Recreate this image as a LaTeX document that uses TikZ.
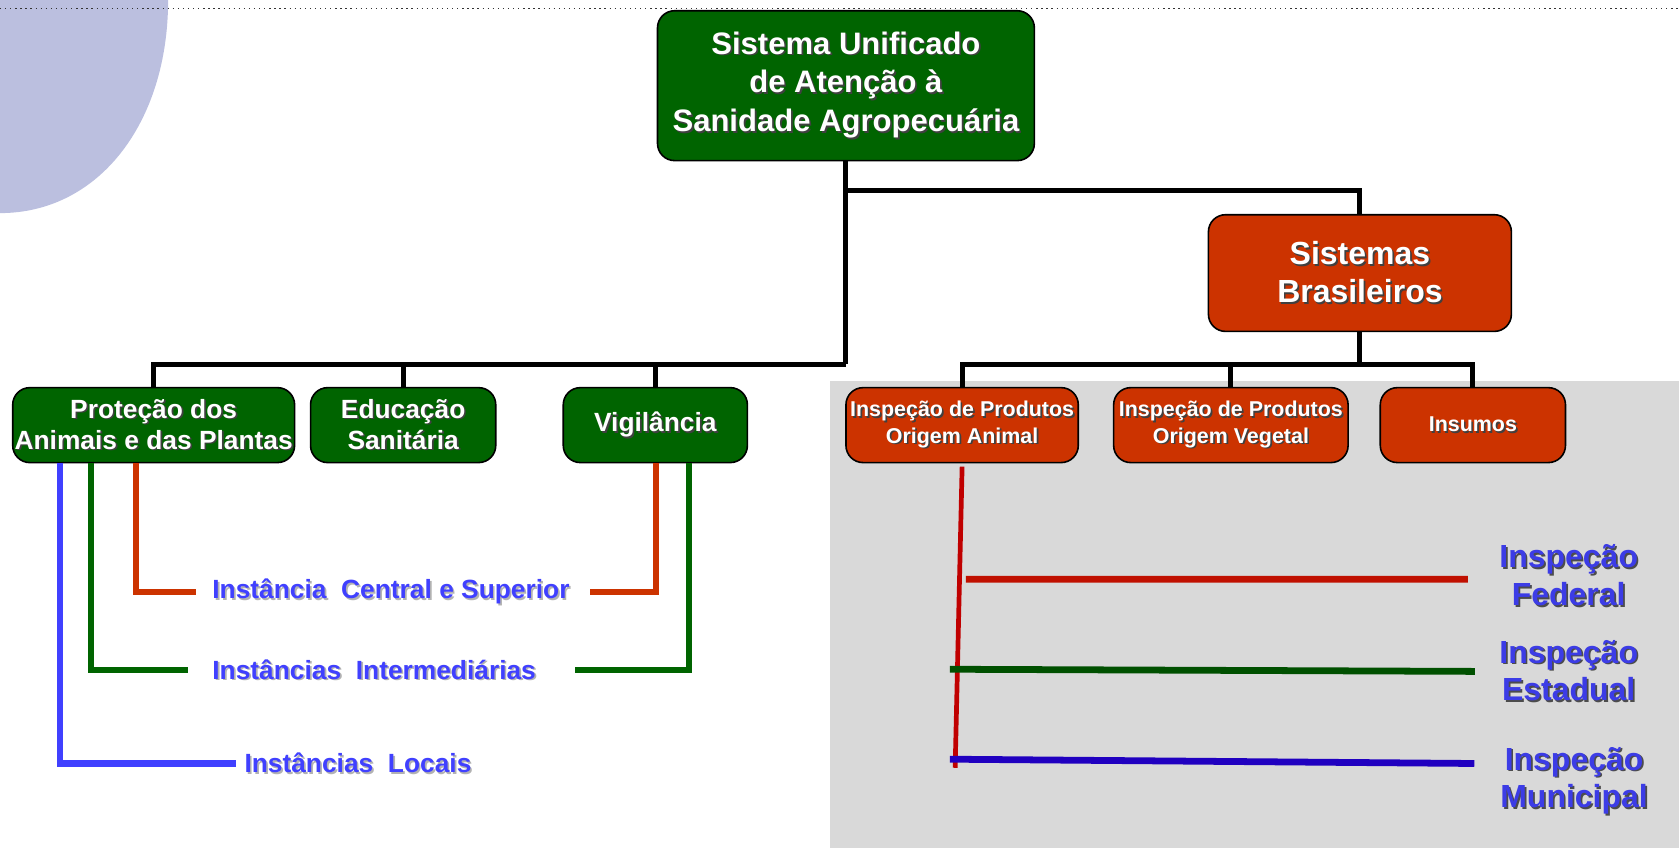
\documentclass[tikz,border=0pt]{standalone}
\usepackage{fontspec}
\setmainfont{Liberation Sans}
\usepackage{tikz}
\usetikzlibrary{shapes}
\usepackage{xcolor}

\definecolor{verde}{RGB}{0,100,0}
\definecolor{tijolo}{RGB}{204,51,0}
\definecolor{lilas}{RGB}{187,191,223}
\definecolor{cinza}{RGB}{217,217,217}
\definecolor{azulinst}{RGB}{64,64,255}
\definecolor{azulinsp}{RGB}{60,60,230}
\definecolor{vermfed}{RGB}{192,16,0}
\definecolor{vermvert}{RGB}{192,0,0}
\definecolor{verdeest}{RGB}{0,80,0}
\definecolor{azulmun}{RGB}{32,0,192}

% texto com sombra
\newcommand\sombra[2][black!75]{\leavevmode\rlap{\hspace{0.9pt}\raisebox{-0.9pt}{\textcolor{#1}{#2}}}#2}

\begin{document}
\begin{tikzpicture}[x=0.02cm,y=-0.02cm]
  \tikzstyle{caixa}=[rectangle, rounded corners=0.32cm, draw=black, line width=0.85pt, text=white, align=center, inner sep=1pt]
  \tikzstyle{gbox}=[caixa, fill=verde, minimum height=1.4cm, font=\fontsize{14}{16.5}\selectfont\bfseries]
  \tikzstyle{rbox}=[caixa, fill=tijolo, minimum height=1.4cm, font=\fontsize{11.4}{14.2}\selectfont\bfseries]
  \tikzstyle{arvore}=[draw=black, line width=2.6pt]
  \tikzstyle{inst}=[text=azulinst, font=\fontsize{14}{16}\selectfont\bfseries, inner sep=0pt, anchor=west]
  \tikzstyle{insp}=[text=azulinsp, font=\fontsize{17}{20}\selectfont\bfseries, inner sep=0pt, align=center]
  \tikzstyle{nivel}=[line width=3.2pt]
  \tikzstyle{traco}=[line width=3.6pt]

  \useasboundingbox (0,0) rectangle (1568,792);
  % fundo
  \fill[cinza] (775,356) rectangle (1568,792);
  \fill[lilas] (0,0) -- (157,0) .. controls (157,115) and (92,199) .. (0,199) -- cycle;
  \draw[black!80, dotted, line width=0.7pt] (0,8) -- (1568,8);

  % caixas
  \node[gbox, minimum width=7.04cm, minimum height=2.8cm, font=\fontsize{16.5}{20.5}\selectfont\bfseries] (suasa) at (790,80) {\sombra{Sistema Unificado}\\\sombra{de Atenção à}\\\sombra{Sanidade Agropecuária}};
  \node[rbox, minimum width=5.66cm, minimum height=2.18cm, font=\fontsize{17}{20.5}\selectfont\bfseries] (sisbr) at (1270,255) {\sombra{Sistemas}\\\sombra{Brasileiros}};
  \node[gbox, minimum width=5.26cm] (protecao) at (143.5,397) {\sombra{Proteção dos}\\\sombra{Animais e das Plantas}};
  \node[gbox, minimum width=3.46cm] (educacao) at (376.5,397) {\sombra{Educação}\\\sombra{Sanitária}};
  \node[gbox, minimum width=3.44cm] (vigilancia) at (612,397) {\sombra{Vigilância}};
  \node[rbox, minimum width=4.34cm] (animal) at (898.5,397) {\sombra{Inspeção de Produtos}\\\sombra{Origem Animal}};
  \node[rbox, minimum width=4.38cm] (vegetal) at (1149.5,397) {\sombra{Inspeção de Produtos}\\\sombra{Origem Vegetal}};
  \node[rbox, minimum width=3.46cm] (insumos) at (1375.5,397) {\sombra{Insumos}};

  % ligacoes
  \coordinate (jA) at (790,178);
  \coordinate (jB) at (790,340);
  \coordinate (jC) at (1270,340);
  \draw[arvore] (suasa.south) -- (jB);
  \draw[arvore] (jA) -| (sisbr.north);
  \foreach \n in {protecao,educacao,vigilancia}
    \draw[arvore] (jB) -| (\n.north);
  \draw[arvore] (sisbr.south) -- (jC);
  \foreach \n in {animal,vegetal,insumos}
    \draw[arvore] (jC) -| (\n.north);

  % instancias
  \node[inst] (central) at (198,553) {\sombra[black!30]{Instância\ \ Central e Superior}};
  \node[inst] (intermed) at (198,626) {\sombra[black!30]{Instâncias\ \ Intermediárias}};
  \node[inst] (locais) at (228,713) {\sombra[black!30]{Instâncias\ \ Locais}};
  \draw[nivel, tijolo] ([xshift=-0.33cm]protecao.south) |- ([xshift=-0.3cm]central.west);
  \draw[nivel, tijolo] ([xshift=0.02cm]vigilancia.south) |- ([xshift=0.38cm]central.east);
  \draw[nivel, verde] ([xshift=-1.17cm]protecao.south) |- ([xshift=-0.44cm]intermed.west);
  \draw[nivel, verde] ([xshift=0.62cm]vigilancia.south) |- ([xshift=0.72cm]intermed.east);
  \draw[nivel, azulinst] ([xshift=-1.75cm]protecao.south) |- ([xshift=-0.16cm]locais.west);

  % inspecao
  \node[insp] (federal) at (1465,538) {\sombra[black!70]{Inspeção}\\\sombra[black!70]{Federal}};
  \node[insp] (estadual) at (1465,627) {\sombra[black!70]{Inspeção}\\\sombra[black!70]{Estadual}};
  \node[insp] (municipal) at (1470,730) {\sombra[black!70]{Inspeção}\\\sombra[black!70]{Municipal}};
  \coordinate (iaFim) at (892,717);
  \coordinate (fedA) at (902,541);
  \coordinate (estA) at (887,625);
  \coordinate (munA) at (887,709);
  \draw[vermvert, line width=2.5pt] ([yshift=-0.06cm]animal.south) -- (iaFim);
  \draw[traco, vermfed] (fedA) -- ([xshift=-0.58cm,yshift=-0.06cm]federal.west);
  \draw[traco, verdeest] (estA) -- ([xshift=-0.45cm]estadual.west);
  \draw[traco, azulmun] (munA) -- ([xshift=-0.48cm,yshift=0.34cm]municipal.west);
\end{tikzpicture}
\end{document}
